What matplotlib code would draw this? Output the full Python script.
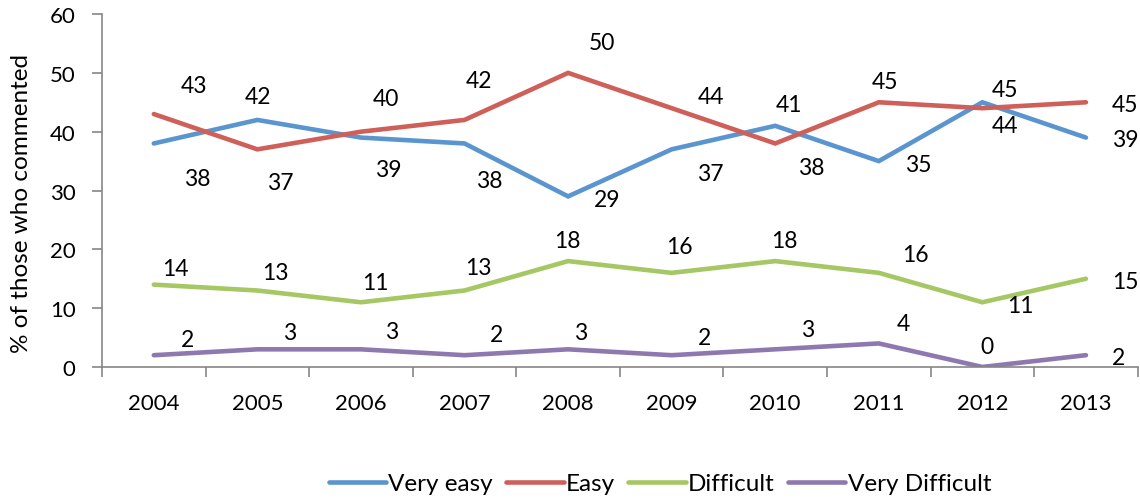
import matplotlib.pyplot as plt

plt.rcParams['font.family'] = ['Lato', 'DejaVu Sans']

years = ['2004', '2005', '2006', '2007', '2008', '2009', '2010', '2011', '2012', '2013']
very_easy = [38, 42, 39, 38, 29, 37, 41, 35, 45, 39]
easy = [43, 37, 40, 42, 50, 44, 38, 45, 44, 45]
difficult = [14, 13, 11, 13, 18, 16, 18, 16, 11, 15]
very_difficult = [2, 3, 3, 2, 3, 2, 3, 4, 0, 2]

series_names = ['Very easy', 'Easy', 'Difficult', 'Very Difficult']
colors = ['#5A95CF', '#CF5F59', '#A6C764', '#8E78B0']

# label offsets in pixels (dx right, dy down) - hand placed like the original
offs_ve = [(43, 35), (1, -23), (27, 32), (25, 37), (39, 3), (39, 24), (14, -21), (39, 3), (23, -13), (39, 2)]
offs_e = [(40, -29), (23, 33), (25, -33), (14, -39), (34, -30), (39, -12), (36, 24), (6, -21), (23, 17), (39, 2)]
offs_d = [(22, -16), (18, -18), (14, -20), (14, -23), (-1, -21), (8, -26), (9, -21), (37, -18), (38, 3), (39, 3)]
offs_vd = [(34, -16), (32, -17), (31, -18), (32, -21), (13, -17), (33, -18), (32, -20), (25, -20), (5, -20), (33, 2)]

fig = plt.figure(figsize=(11.4, 5.02), dpi=100)
ax = fig.add_axes([0.0895, 0.267, 0.9085, 0.703])

x = list(range(len(years)))
data = [very_easy, easy, difficult, very_difficult]
offsets = [offs_ve, offs_e, offs_d, offs_vd]
px = 0.72  # pixels -> points at dpi 100

for vals, name, c, offs in zip(data, series_names, colors, offsets):
    ax.plot(x, vals, color=c, lw=3.3, label=name, solid_capstyle='round', solid_joinstyle='miter')
    for xi, v, (dx, dy) in zip(x, vals, offs):
        ax.annotate(str(v), (xi, v), xytext=(dx * px, -dy * px), textcoords='offset points',
                    ha='center', va='center', fontsize=16.5, color='black')

ax.set_xlim(-0.5, len(years) - 0.5)
ax.set_ylim(0, 60)
ax.set_yticks(range(0, 61, 10))
ax.set_xticks([i - 0.5 for i in range(len(years) + 1)])
ax.set_xticklabels([])
ax.set_xticks(x, minor=True)
ax.set_xticklabels(years, minor=True)
ax.tick_params(axis='x', which='major', length=7, width=1.2, color='#868686', direction='out')
ax.tick_params(axis='x', which='minor', length=0, pad=19, labelsize=16)
ax.tick_params(axis='y', length=7, width=1.2, color='#868686', direction='out', pad=12, labelsize=16)

for s in ['top', 'right']:
    ax.spines[s].set_visible(False)
for s in ['left', 'bottom']:
    ax.spines[s].set_color('#868686')
    ax.spines[s].set_linewidth(1.2)

ax.set_ylabel('% of those who commented', fontsize=17.5)
ax.yaxis.set_label_coords(-0.068, 0.467)

fig.legend(loc='center', bbox_to_anchor=(0.579, 0.034), ncol=4, frameon=False, fontsize=17.5,
           handlelength=2.35, handletextpad=0.1, columnspacing=0.55)

fig.savefig('out.png', dpi=100)
